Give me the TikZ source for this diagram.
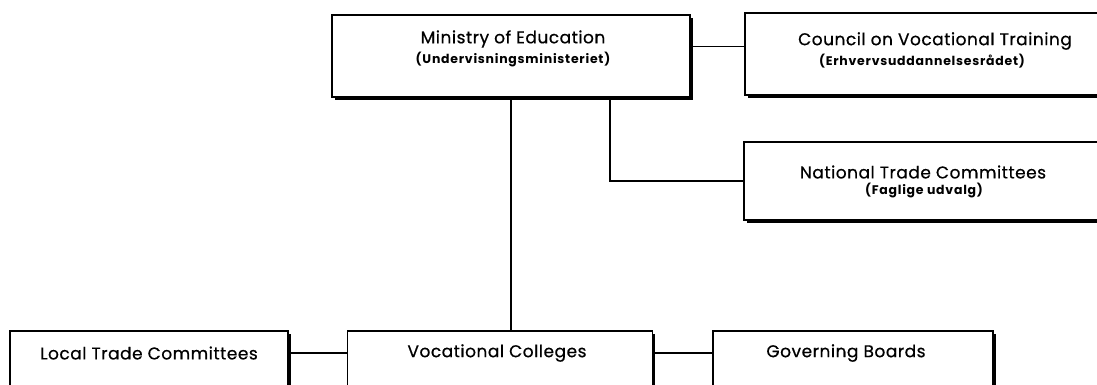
\documentclass[tikz,border=0pt]{standalone}
\usepackage{fontspec}
\setmainfont{Poppins}
\newfontfamily\ttlfont[LetterSpace=3,FakeBold=0.6]{Poppins}
\newfontfamily\subfont[LetterSpace=6]{Poppins}
\tikzset{
  box/.style={draw=black, line width=1.4pt, fill=white, rectangle, inner sep=0pt},
  shadowed/.style={preaction={fill=black, transform canvas={xshift=2.5pt,yshift=-2.5pt}}},
  ttl/.style={font=\ttlfont\fontsize{17}{19}\selectfont, inner sep=0pt, anchor=center},
  sub/.style={font=\subfont\bfseries\fontsize{12.5}{14}\selectfont, inner sep=0pt, anchor=center},
  conn/.style={line width=1.4pt}
}
\begin{document}
\begin{tikzpicture}[x=1pt,y=-1pt]
\useasboundingbox (0,0) rectangle (1097,384);
\clip (0,0) rectangle (1097,384);
% boxes
\node (min) [box, shadowed, minimum width=358pt, minimum height=82pt] at (511,56) {};
\node (coun) [box, shadowed, minimum width=380pt, minimum height=82pt] at (935,54) {};
\node (nat) [box, shadowed, minimum width=358pt, minimum height=78pt] at (923,181) {};
\node (loc) [box, shadowed, minimum width=278pt, minimum height=70pt] at (149,366) {};
\node (voc) [box, shadowed, minimum width=305pt, minimum height=70pt] at (500,366) {};
\node (gov) [box, shadowed, minimum width=280pt, minimum height=70pt] at (853,366) {};
% texts
\node (mint) [ttl] at (513,39) {Ministry of Education};
\node (mins) [sub] at (513,60) {(Undervisningsministeriet)};
\node (count) [ttl] at (935,41) {Council on Vocational Training};
\node (couns) [sub] at (922,61) {(Erhvervsuddannelsesrådet)};
\node (natt) [ttl] at (923,172) {National Trade Committees};
\node (nats) [sub] at (924,191) {(Faglige udvalg)};
\node (loct) [ttl] at (149,353) {Local Trade Committees};
\node (voct) [ttl] at (497,353) {Vocational Colleges};
\node (govt) [ttl] at (846,353) {Governing Boards};
% connectors
\draw[conn] ([yshift=-32pt]min.north east) -- ([yshift=-32pt]min.north east -| coun.west);
\draw[conn] ([xshift=99pt]min.south) |- (nat.west);
\draw[conn] (min.south) -- (min.south |- voc.north);
\draw[conn] (loct -| loc.east) -- (voct -| voc.west);
\draw[conn] (voct -| voc.east) -- (voct -| gov.west);
\end{tikzpicture}
\end{document}
